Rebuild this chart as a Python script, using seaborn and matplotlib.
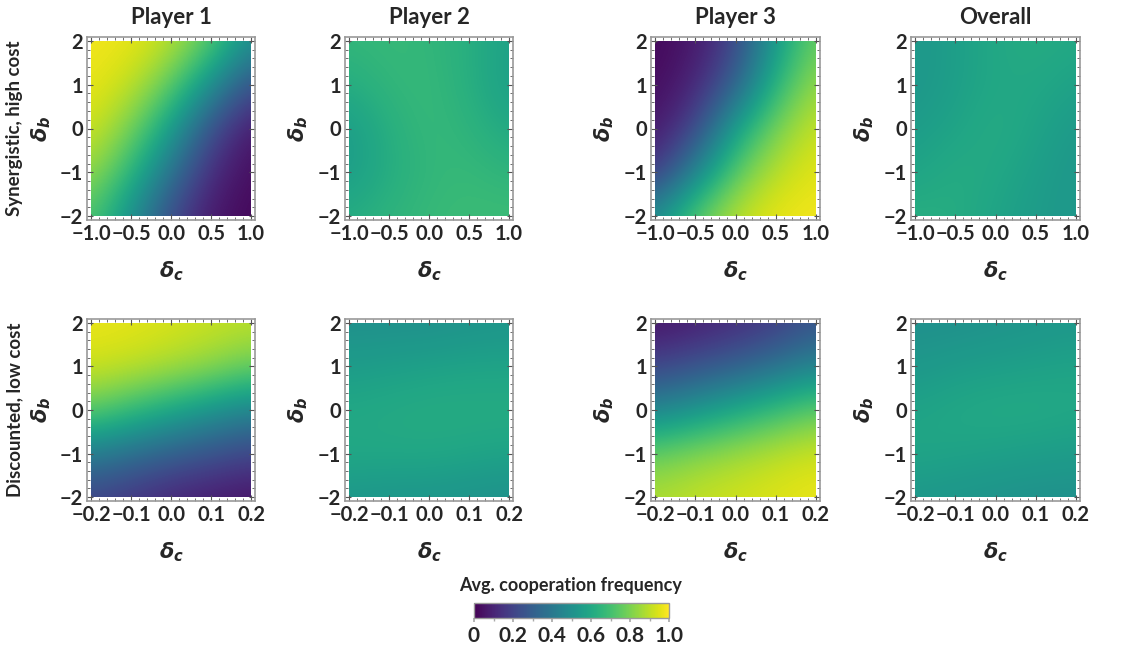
import numpy as np
import seaborn as sns
import matplotlib.pyplot as plt
from matplotlib.patches import Rectangle
from matplotlib.ticker import MultipleLocator

# grid coordinates (value at each grid point)
db_vals = [-2, -1, 0, 1, 2]
dc_high = [-1.0, -0.5, 0.0, 0.5, 1.0]
dc_low = [-0.2, -0.1, 0.0, 0.1, 0.2]

titles = ["Player 1", "Player 2", "Player 3", "Overall"]
row_labels = ["Synergistic, high cost", "Discounted, low cost"]

# rows: delta_b = -2 .. 2, columns: delta_c left -> right
p1_high = [[0.72, 0.50, 0.22, 0.06, 0.02],
           [0.85, 0.66, 0.38, 0.12, 0.03],
           [0.93, 0.80, 0.56, 0.24, 0.06],
           [0.97, 0.91, 0.76, 0.50, 0.24],
           [0.98, 0.97, 0.90, 0.75, 0.50]]
p2_high = [[0.62, 0.65, 0.67, 0.68, 0.68],
           [0.55, 0.62, 0.66, 0.67, 0.65],
           [0.55, 0.63, 0.67, 0.65, 0.60],
           [0.62, 0.66, 0.67, 0.63, 0.56],
           [0.66, 0.67, 0.66, 0.63, 0.57]]
p3_high = [[0.50, 0.75, 0.90, 0.97, 0.98],
           [0.15, 0.45, 0.75, 0.90, 0.96],
           [0.06, 0.20, 0.57, 0.80, 0.92],
           [0.03, 0.10, 0.30, 0.65, 0.85],
           [0.02, 0.06, 0.20, 0.55, 0.77]]
all_high = [[0.63, 0.62, 0.58, 0.55, 0.53],
            [0.58, 0.62, 0.60, 0.56, 0.53],
            [0.55, 0.58, 0.62, 0.58, 0.54],
            [0.53, 0.56, 0.60, 0.60, 0.57],
            [0.53, 0.56, 0.60, 0.62, 0.60]]

p1_low = [[0.20, 0.15, 0.10, 0.07, 0.05],
          [0.42, 0.36, 0.30, 0.25, 0.20],
          [0.76, 0.68, 0.60, 0.52, 0.45],
          [0.93, 0.91, 0.88, 0.84, 0.78],
          [0.97, 0.96, 0.94, 0.92, 0.90]]
p2_low = [[0.53, 0.52, 0.52, 0.51, 0.50],
          [0.60, 0.60, 0.60, 0.59, 0.58],
          [0.60, 0.61, 0.62, 0.62, 0.62],
          [0.55, 0.56, 0.57, 0.58, 0.58],
          [0.50, 0.50, 0.50, 0.51, 0.52]]
p3_low = [[0.88, 0.91, 0.93, 0.95, 0.97],
          [0.77, 0.82, 0.86, 0.90, 0.93],
          [0.45, 0.52, 0.60, 0.68, 0.76],
          [0.20, 0.25, 0.30, 0.37, 0.45],
          [0.05, 0.08, 0.12, 0.17, 0.26]]
all_low = [[0.53, 0.52, 0.51, 0.50, 0.50],
           [0.59, 0.58, 0.57, 0.56, 0.55],
           [0.58, 0.60, 0.61, 0.61, 0.60],
           [0.53, 0.55, 0.56, 0.57, 0.58],
           [0.50, 0.50, 0.51, 0.52, 0.53]]

cbar_ticks = [0, 0.2, 0.4, 0.6, 0.8, 1.0]
cbar_labels = ["0", "0.2", "0.4", "0.6", "0.8", "1.0"]

sns.set_theme(style="ticks")
plt.rcParams['font.family'] = ['Lato', 'DejaVu Sans']
plt.rcParams['font.weight'] = 'bold'
plt.rcParams['mathtext.fontset'] = 'dejavusans'

cmap = sns.color_palette("viridis", as_cmap=True)
frame_col = '#9a9a9a'

W, H = 1136, 647
fig = plt.figure(figsize=(W / 100, H / 100), dpi=100)

lefts = [87, 345, 651, 911]
widths = [168, 168, 169, 169]
rows = [(37, 220), (319, 501)]
grids = [[p1_high, p2_high, p3_high, all_high], [p1_low, p2_low, p3_low, all_low]]
xs_rows = [dc_high, dc_low]


def minus(s):
    return s.replace("-", "\u2212")


for r, (top, bot) in enumerate(rows):
    xs = xs_rows[r]
    xr = xs[-1]
    dx = xs[1] - xs[0]
    dy = db_vals[1] - db_vals[0]
    for c in range(4):
        ax = fig.add_axes([lefts[c] / W, 1 - bot / H, widths[c] / W, (bot - top) / H])
        im = ax.imshow(np.array(grids[r][c]), origin='lower', cmap=cmap, vmin=0, vmax=1,
                       interpolation='bicubic', aspect='auto',
                       extent=[xs[0] - dx / 2, xs[-1] + dx / 2,
                               db_vals[0] - dy / 2, db_vals[-1] + dy / 2])
        im.set_clip_path(Rectangle((xs[0], db_vals[0]), xs[-1] - xs[0],
                                   db_vals[-1] - db_vals[0], transform=ax.transData))
        ax.set_xlim(-xr * 1.05, xr * 1.05)
        ax.set_ylim(-2.09, 2.09)
        ax.xaxis.set_minor_locator(MultipleLocator(xr / 10))
        ax.yaxis.set_minor_locator(MultipleLocator(0.2))
        ax.set_xticks(xs)
        ax.set_xticklabels([minus(f"{v:.1f}") for v in xs])
        ax.set_yticks(db_vals)
        ax.set_yticklabels([minus(str(v)) for v in db_vals])
        ax.tick_params(which='both', direction='in', top=True, right=True,
                       color='#555555', labelsize=14.5, pad=3)
        ax.tick_params(which='major', length=4, width=0.8)
        ax.tick_params(which='minor', length=2, width=0.6)
        for sp in ax.spines.values():
            sp.set_color(frame_col)
            sp.set_linewidth(1.2)
        ax.set_xlabel(r'$\delta_c$', fontsize=15)
        ax.xaxis.set_label_coords(0.5, -0.215)
        ax.set_ylabel(r'$\delta_b$', fontsize=15)
        ax.yaxis.set_label_coords(-0.2 if c == 0 else -0.21, 0.5)
        if r == 0:
            ax.set_title(titles[c], fontsize=16, fontweight='bold', pad=9)

for r, (top, bot) in enumerate(rows):
    fig.text(15 / W, 1 - (top + bot) / 2 / H, row_labels[r], rotation=90,
             ha='center', va='center', fontsize=13.5, fontweight='bold')

# colorbar
cax = fig.add_axes([474 / W, 1 - 618 / H, 195 / W, 15 / H])
sm = plt.cm.ScalarMappable(cmap=cmap, norm=plt.Normalize(0, 1))
cb = fig.colorbar(sm, cax=cax, orientation='horizontal')
cb.set_ticks(cbar_ticks)
cb.set_ticklabels(cbar_labels)
cb.ax.xaxis.set_minor_locator(MultipleLocator(0.1))
cb.ax.tick_params(which='both', direction='out', color='#aaaaaa', labelsize=15, pad=3)
cb.ax.tick_params(which='major', length=3)
cb.ax.tick_params(which='minor', length=2)
cb.outline.set_edgecolor(frame_col)
cb.outline.set_linewidth(1.0)
fig.text(571 / W, 1 - 585 / H, "Avg. cooperation frequency", ha='center', va='center',
         fontsize=13, fontweight='bold')

fig.savefig("out.png", dpi=100)
